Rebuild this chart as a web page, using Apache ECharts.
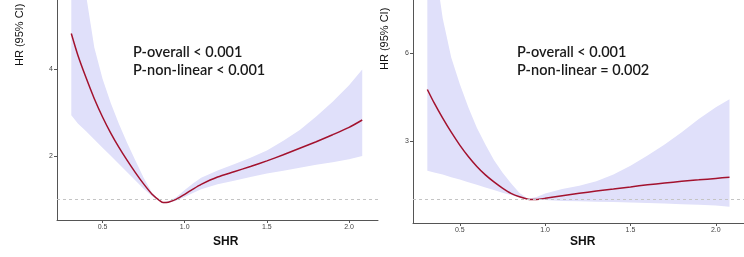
<!DOCTYPE html>
<html>
<head>
<meta charset="utf-8">
<script src="https://cdn.jsdelivr.net/npm/echarts@6/dist/echarts.min.js"></script>
<style>
    html, body { margin: 0; padding: 0; background: #fff; }
    #chart { width: 744px; height: 257px; }
</style>
</head>
<body>
<div id="chart"></div>
<script>
// left panel
var shrLeft = [0.31, 0.35, 0.40, 0.45, 0.50, 0.55, 0.60, 0.65, 0.70, 0.75, 0.80, 0.85, 0.87, 0.90, 0.95, 1.00, 1.05, 1.10, 1.20, 1.30, 1.40, 1.50, 1.60, 1.70, 1.80, 1.90, 2.00, 2.08];
var hrLeft = [4.82, 4.32, 3.80, 3.32, 2.90, 2.53, 2.20, 1.90, 1.62, 1.36, 1.13, 0.97, 0.93, 0.94, 1.01, 1.12, 1.24, 1.35, 1.52, 1.64, 1.76, 1.89, 2.03, 2.18, 2.33, 2.49, 2.66, 2.83];
var upperLeft = [9.0, 7.4, 5.7, 4.5, 3.78, 3.22, 2.74, 2.30, 1.90, 1.50, 1.16, 0.98, 0.94, 0.96, 1.06, 1.22, 1.37, 1.50, 1.67, 1.81, 1.96, 2.13, 2.35, 2.60, 2.91, 3.25, 3.63, 3.99];
var lowerLeft = [2.94, 2.75, 2.57, 2.38, 2.19, 2.01, 1.82, 1.63, 1.44, 1.25, 1.08, 0.95, 0.91, 0.92, 0.98, 1.06, 1.15, 1.24, 1.35, 1.43, 1.52, 1.60, 1.66, 1.73, 1.80, 1.86, 1.93, 2.00];

// right panel
var shrRight = [0.31, 0.35, 0.40, 0.45, 0.50, 0.55, 0.60, 0.65, 0.70, 0.75, 0.80, 0.85, 0.90, 0.95, 1.00, 1.10, 1.20, 1.30, 1.40, 1.50, 1.60, 1.70, 1.80, 1.90, 2.00, 2.08];
var hrRight = [4.76, 4.30, 3.78, 3.30, 2.86, 2.47, 2.13, 1.84, 1.60, 1.39, 1.21, 1.09, 1.01, 1.00, 1.04, 1.13, 1.21, 1.29, 1.36, 1.43, 1.50, 1.56, 1.62, 1.67, 1.72, 1.76];
var upperRight = [11.0, 9.2, 7.2, 5.85, 4.95, 4.15, 3.45, 2.88, 2.35, 1.92, 1.55, 1.22, 1.02, 1.08, 1.20, 1.36, 1.47, 1.62, 1.85, 2.15, 2.50, 2.88, 3.30, 3.75, 4.15, 4.43];
var lowerRight = [1.98, 1.92, 1.85, 1.76, 1.68, 1.59, 1.50, 1.41, 1.32, 1.23, 1.15, 1.07, 1.00, 0.99, 0.98, 0.95, 0.94, 0.92, 0.91, 0.90, 0.88, 0.86, 0.84, 0.82, 0.79, 0.75];

var xTicks = [0.5, 1.0, 1.5, 2.0];
var yTicksLeft = [2, 4];
var yTicksRight = [3, 6];
var statsLeft = ['P-overall < 0.001', 'P-non-linear < 0.001'];
var statsRight = ['P-overall < 0.001', 'P-non-linear = 0.002'];

var bandColor = '#e0e0fa';
var curveColor = '#a3122e';

function pairs(xs, ys) {
    return xs.map(function (x, i) { return [x, ys[i]]; });
}

function xAxisOf(idx, min, max) {
    return {
        type: 'value', gridIndex: idx, min: min, max: max,
        splitLine: { show: false },
        axisLine: { lineStyle: { color: '#555', width: 1 } },
        axisTick: { customValues: xTicks, length: 3, lineStyle: { color: '#555' } },
        axisLabel: {
            customValues: xTicks, color: '#444', fontSize: 7, margin: 4,
            fontFamily: 'Liberation Sans',
            formatter: function (v) { return v.toFixed(1); }
        }
    };
}
function yAxisOf(idx, min, max, ticks) {
    return {
        type: 'value', gridIndex: idx, min: min, max: max,
        splitLine: { show: false },
        axisLine: { show: true, lineStyle: { color: '#555', width: 1 } },
        axisTick: { show: true, customValues: ticks, length: 3, lineStyle: { color: '#555' } },
        axisLabel: { customValues: ticks, color: '#444', fontSize: 7, margin: 4, fontFamily: 'Liberation Sans' }
    };
}
// 95% CI band: polygon upper edge forward, lower edge back
function bandSeries(idx, xs, up, lo) {
    return {
        type: 'custom', xAxisIndex: idx, yAxisIndex: idx,
        data: [0], silent: true, z: 1,
        renderItem: function (params, api) {
            var pts = [];
            xs.forEach(function (x, i) { pts.push(api.coord([x, up[i]])); });
            for (var i = xs.length - 1; i >= 0; i--) {
                pts.push(api.coord([xs[i], lo[i]]));
            }
            return {
                type: 'polygon',
                shape: { points: pts },
                style: { fill: bandColor, stroke: null }
            };
        }
    };
}
function curveSeries(idx, xs, ys) {
    return {
        type: 'line', xAxisIndex: idx, yAxisIndex: idx,
        data: pairs(xs, ys), symbol: 'none', smooth: 0.25,
        lineStyle: { color: curveColor, width: 1.5 }, z: 3,
        markLine: {
            silent: true, symbol: 'none', label: { show: false },
            lineStyle: { color: '#c4c4c4', type: [3, 3], width: 1 },
            data: [{ yAxis: 1 }]
        }
    };
}
function statText(x, lines) {
    return lines.map(function (t, i) {
        return {
            type: 'text', left: x, top: 45 + i * 17.5,
            style: { text: t, fill: '#1a1a1a', font: '600 14.5px Lato' }
        };
    });
}

var myChart = echarts.init(document.getElementById('chart'));
var option = {
    animation: false,
    grid: [
        { left: 57, top: 0, width: 321, height: 220 },
        { left: 413, top: 0, right: 0, height: 223 }
    ],
    xAxis: [xAxisOf(0, 0.223, 2.176), xAxisOf(1, 0.226, 2.165)],
    yAxis: [yAxisOf(0, 0.53, 5.59, yTicksLeft), yAxisOf(1, 0.195, 7.82, yTicksRight)],
    series: [
        bandSeries(0, shrLeft, upperLeft, lowerLeft),
        curveSeries(0, shrLeft, hrLeft),
        bandSeries(1, shrRight, upperRight, lowerRight),
        curveSeries(1, shrRight, hrRight)
    ],
    graphic: [].concat(
        statText(133, statsLeft),
        statText(517, statsRight),
        [
            { type: 'text', left: 213, top: 236, style: { text: 'SHR', fill: '#111', font: 'bold 12px Liberation Sans' } },
            { type: 'text', left: 570, top: 236, style: { text: 'SHR', fill: '#111', font: 'bold 12px Liberation Sans' } },
            { type: 'text', x: 14, y: 66, rotation: Math.PI / 2, style: { text: 'HR (95% CI)', fill: '#111', font: '11px Liberation Sans' } },
            { type: 'text', x: 379, y: 70, rotation: Math.PI / 2, style: { text: 'HR (95% CI)', fill: '#111', font: '11px Liberation Sans' } }
        ]
    )
};
myChart.setOption(option);
</script>
</body>
</html>
